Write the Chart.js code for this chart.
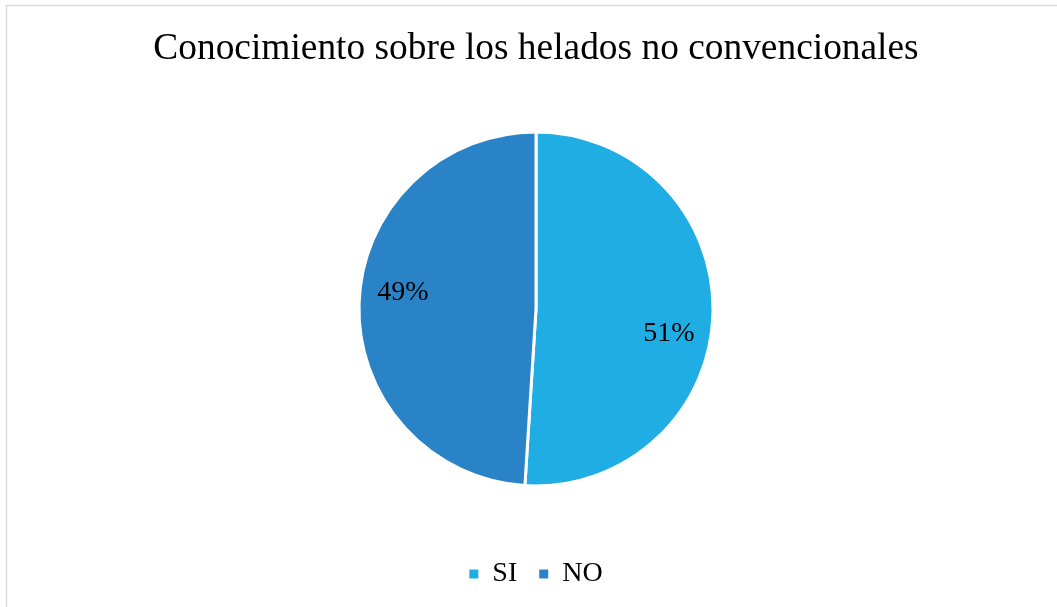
<!DOCTYPE html>
<html>
<head>
<meta charset="utf-8">
<script src="https://cdn.jsdelivr.net/npm/chart.js@4/dist/chart.umd.min.js"></script>
<style>
  html, body { margin: 0; padding: 0; background: #fff; }
  #box { width: 1057px; height: 607px; }
</style>
</head>
<body>
<div id="box"><canvas id="pieChart" width="1057" height="607"></canvas></div>
<script>
const categories = ['SI', 'NO'];
const percentages = [51, 49];
const sliceColors = ['#1FADE4', '#2A83C6'];
const chartTitle = 'Conocimiento sobre los helados no convencionales';

const serif = '"Liberation Serif", "Times New Roman", serif';

// thin grey frame around the whole chart
const frame = {
  id: 'frame',
  beforeDraw(chart) {
    const c = chart.ctx;
    c.save();
    c.fillStyle = '#fff';
    c.fillRect(0, 0, chart.width, chart.height);
    c.strokeStyle = '#d9d9d9';
    c.lineWidth = 1.5;
    c.strokeRect(6.5, 5.5, chart.width + 20, chart.height + 20);
    c.restore();
  }
};

// percentage text inside each slice
const sliceLabels = {
  id: 'sliceLabels',
  afterDatasetsDraw(chart) {
    const c = chart.ctx;
    const meta = chart.getDatasetMeta(0);
    c.save();
    c.font = '28px ' + serif;
    c.fillStyle = '#000';
    c.textAlign = 'center';
    c.textBaseline = 'middle';
    meta.data.forEach((arc, i) => {
      const p = arc.getProps(['x', 'y', 'startAngle', 'endAngle', 'outerRadius'], true);
      const mid = (p.startAngle + p.endAngle) / 2 + 0.12;
      const r = p.outerRadius * 0.76;
      c.fillText(percentages[i] + '%', p.x + Math.cos(mid) * r, p.y + Math.sin(mid) * r + 4);
    });
    c.restore();
  }
};

new Chart(document.getElementById('pieChart'), {
  type: 'pie',
  data: {
    labels: categories,
    datasets: [{
      data: percentages,
      backgroundColor: sliceColors,
      borderColor: '#fff',
      borderWidth: 3,
      radius: 177
    }]
  },
  options: {
    responsive: false,
    animation: false,
    layout: { padding: { left: 15, right: 0, top: 0, bottom: 9 } },
    plugins: {
      title: {
        display: true,
        text: chartTitle,
        color: '#000',
        font: { family: serif, size: 37.4, weight: 'normal' },
        padding: { top: 27, bottom: 8 }
      },
      legend: {
        position: 'bottom',
        labels: {
          color: '#000',
          boxWidth: 9,
          boxHeight: 9,
          padding: 22,
          font: { family: serif, size: 28 },
          // plain squares without the slice's white outline
          generateLabels(chart) {
            return Chart.controllers.pie.overrides.plugins.legend.labels
              .generateLabels(chart)
              .map(item => Object.assign(item, { lineWidth: 0, strokeStyle: item.fillStyle }));
          }
        }
      },
      tooltip: { enabled: false }
    }
  },
  plugins: [frame, sliceLabels]
});
</script>
</body>
</html>
